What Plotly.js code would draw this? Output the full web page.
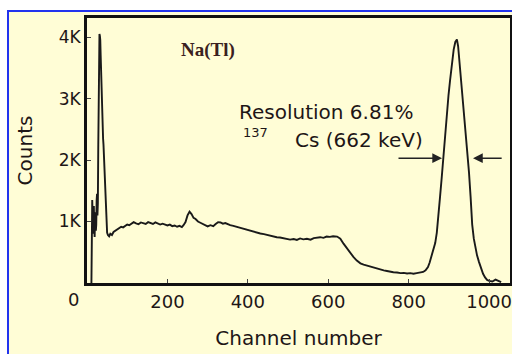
<!DOCTYPE html>
<html><head><meta charset="utf-8">
<script src="https://cdn.plot.ly/plotly-3.0.1.min.js"></script>
<style>
html,body{margin:0;padding:0;background:#fff;width:512px;height:354px;overflow:hidden;}
#bg{position:absolute;left:7px;top:10px;width:505px;height:344px;background:#FFFDD6;border-left:2px solid #2233ee;border-top:2px solid #2233ee;box-sizing:border-box;}
#chart{position:absolute;left:0;top:0;width:512px;height:354px;}
</style></head><body>
<div id="bg"></div><div id="chart"></div>
<script>
const channels = [11,12,13,14,15,16,17,18,19,20,21,22,23,24,25,26,27,28,29,30,31,32,33,34,35,36,37,38,39,40,41,42,43,44,45,46,47,48,50,52,55,58,62,66,70,75,80,85,90,95,100,105,110,116,122,128,134,140,146,152,158,164,170,176,182,188,194,200,206,212,218,224,230,236,240,245,250,255,260,265,270,276,282,288,294,300,307,314,320,326,332,338,344,350,356,364,372,380,390,398,406,414,422,431,440,448,456,464,472,480,488,496,505,514,522,530,538,547,556,564,572,580,588,596,604,612,622,630,638,646,655,663,671,680,688,696,704,712,720,729,738,746,754,762,771,780,788,796,804,812,820,829,836,842,848,852,856,861,866,870,873,876,878,882,886,890,895,899,903,906,908,912,916,920,923,926,930,934,938,942,946,950,954,958,962,966,970,975,980,985,990,995,1000,1008,1016,1024,1030];
const counts = [0,600,1350,1100,800,1000,1250,900,750,1050,1150,850,950,1350,1450,1100,1300,2200,3200,4000,4050,4020,3950,3700,3400,3150,3000,2800,2550,2350,2250,2100,1850,1650,1450,1250,1100,950,820,780,760,800,780,830,850,880,900,915,905,930,950,940,965,990,970,955,985,970,960,990,975,960,985,970,950,965,945,935,950,925,935,915,930,910,940,990,1100,1160,1120,1060,1040,1000,980,960,935,920,940,925,960,990,985,965,975,955,940,930,915,895,870,860,850,835,820,805,795,780,775,755,745,740,725,720,705,715,700,725,710,720,705,730,740,745,735,755,750,760,755,720,640,565,490,420,365,320,300,285,265,245,235,225,205,195,180,175,170,160,165,155,160,150,160,165,180,205,260,330,420,540,650,820,1000,1200,1400,1700,2050,2400,2760,3050,3300,3500,3630,3800,3920,3960,3850,3620,3450,3100,2750,2400,2150,1800,1400,950,720,560,450,340,230,150,90,50,35,25,55,35,15];
const yTickVals = [1000,2000,3000,4000];
const yTickText = ['1K','2K','3K','4K'];
const xTickVals = [200,400,600,800,1000];
const xTickText = ['200','400','600','800','1000'];
const arrowLeft = {tail:[771,2030], tip:[883,2030]};
const arrowRight = {tail:[1035,2030], tip:[960,2030]};

const ink = '#1e1616';
const trace = {x: channels, y: counts, type:'scatter', mode:'lines',
  line:{color:'#1a1a1a', width:1.9}, hoverinfo:'skip', showlegend:false};

const layout = {
  width:512, height:354,
  margin:{l:87, r:2, t:18, b:71},
  paper_bgcolor:'rgba(0,0,0,0)', plot_bgcolor:'rgba(0,0,0,0)',
  font:{family:'DejaVu Sans, sans-serif', color:ink},
  xaxis:{range:[0,1052], tickvals:xTickVals, ticktext:xTickText, ticks:'inside', ticklen:4, tickcolor:'#444',
    showline:true, mirror:true, linewidth:3, linecolor:'#111', showgrid:false, zeroline:false,
    tickfont:{size:18, color:ink}, title:{text:'Channel number', standoff:21, font:{size:20, color:ink}}},
  yaxis:{range:[0,4310], tickvals:yTickVals, ticktext:yTickText, ticks:'inside', ticklen:4, tickcolor:'#444',
    showline:true, mirror:true, linewidth:3, linecolor:'#111', showgrid:false, zeroline:false,
    tickfont:{size:17, color:ink}, title:{text:'Counts', standoff:21, font:{size:20, color:ink}}},
  annotations:[
    {xref:'paper', yref:'paper', x:-0.031, y:-0.064, text:'0', showarrow:false, font:{size:18, color:ink}, xanchor:'center', yanchor:'middle'},
    {xref:'x', yref:'y', x:302, y:3790, text:'<b>Na(Tl)</b>', showarrow:false, font:{family:'Liberation Serif, serif', size:19, color:'#3a2020'}},
    {xref:'x', yref:'y', x:374, y:2780, text:'Resolution 6.81%', showarrow:false, xanchor:'left', font:{size:20, color:ink}},
    {xref:'x', yref:'y', x:418, y:2440, text:'137', showarrow:false, font:{size:13, color:ink}},
    {xref:'x', yref:'y', x:513, y:2330, text:'Cs (662 keV)', showarrow:false, xanchor:'left', font:{size:20, color:ink}},
    {xref:'x', yref:'y', axref:'x', ayref:'y', x:arrowLeft.tip[0], y:arrowLeft.tip[1], ax:arrowLeft.tail[0], ay:arrowLeft.tail[1], text:'', showarrow:true, arrowhead:2, arrowsize:1.3, arrowwidth:1.5, arrowcolor:'#222'},
    {xref:'x', yref:'y', axref:'x', ayref:'y', x:arrowRight.tip[0], y:arrowRight.tip[1], ax:arrowRight.tail[0], ay:arrowRight.tail[1], text:'', showarrow:true, arrowhead:2, arrowsize:1.3, arrowwidth:1.5, arrowcolor:'#222'}
  ]
};
Plotly.newPlot('chart', [trace], layout, {displayModeBar:false, staticPlot:true});
</script></body></html>
